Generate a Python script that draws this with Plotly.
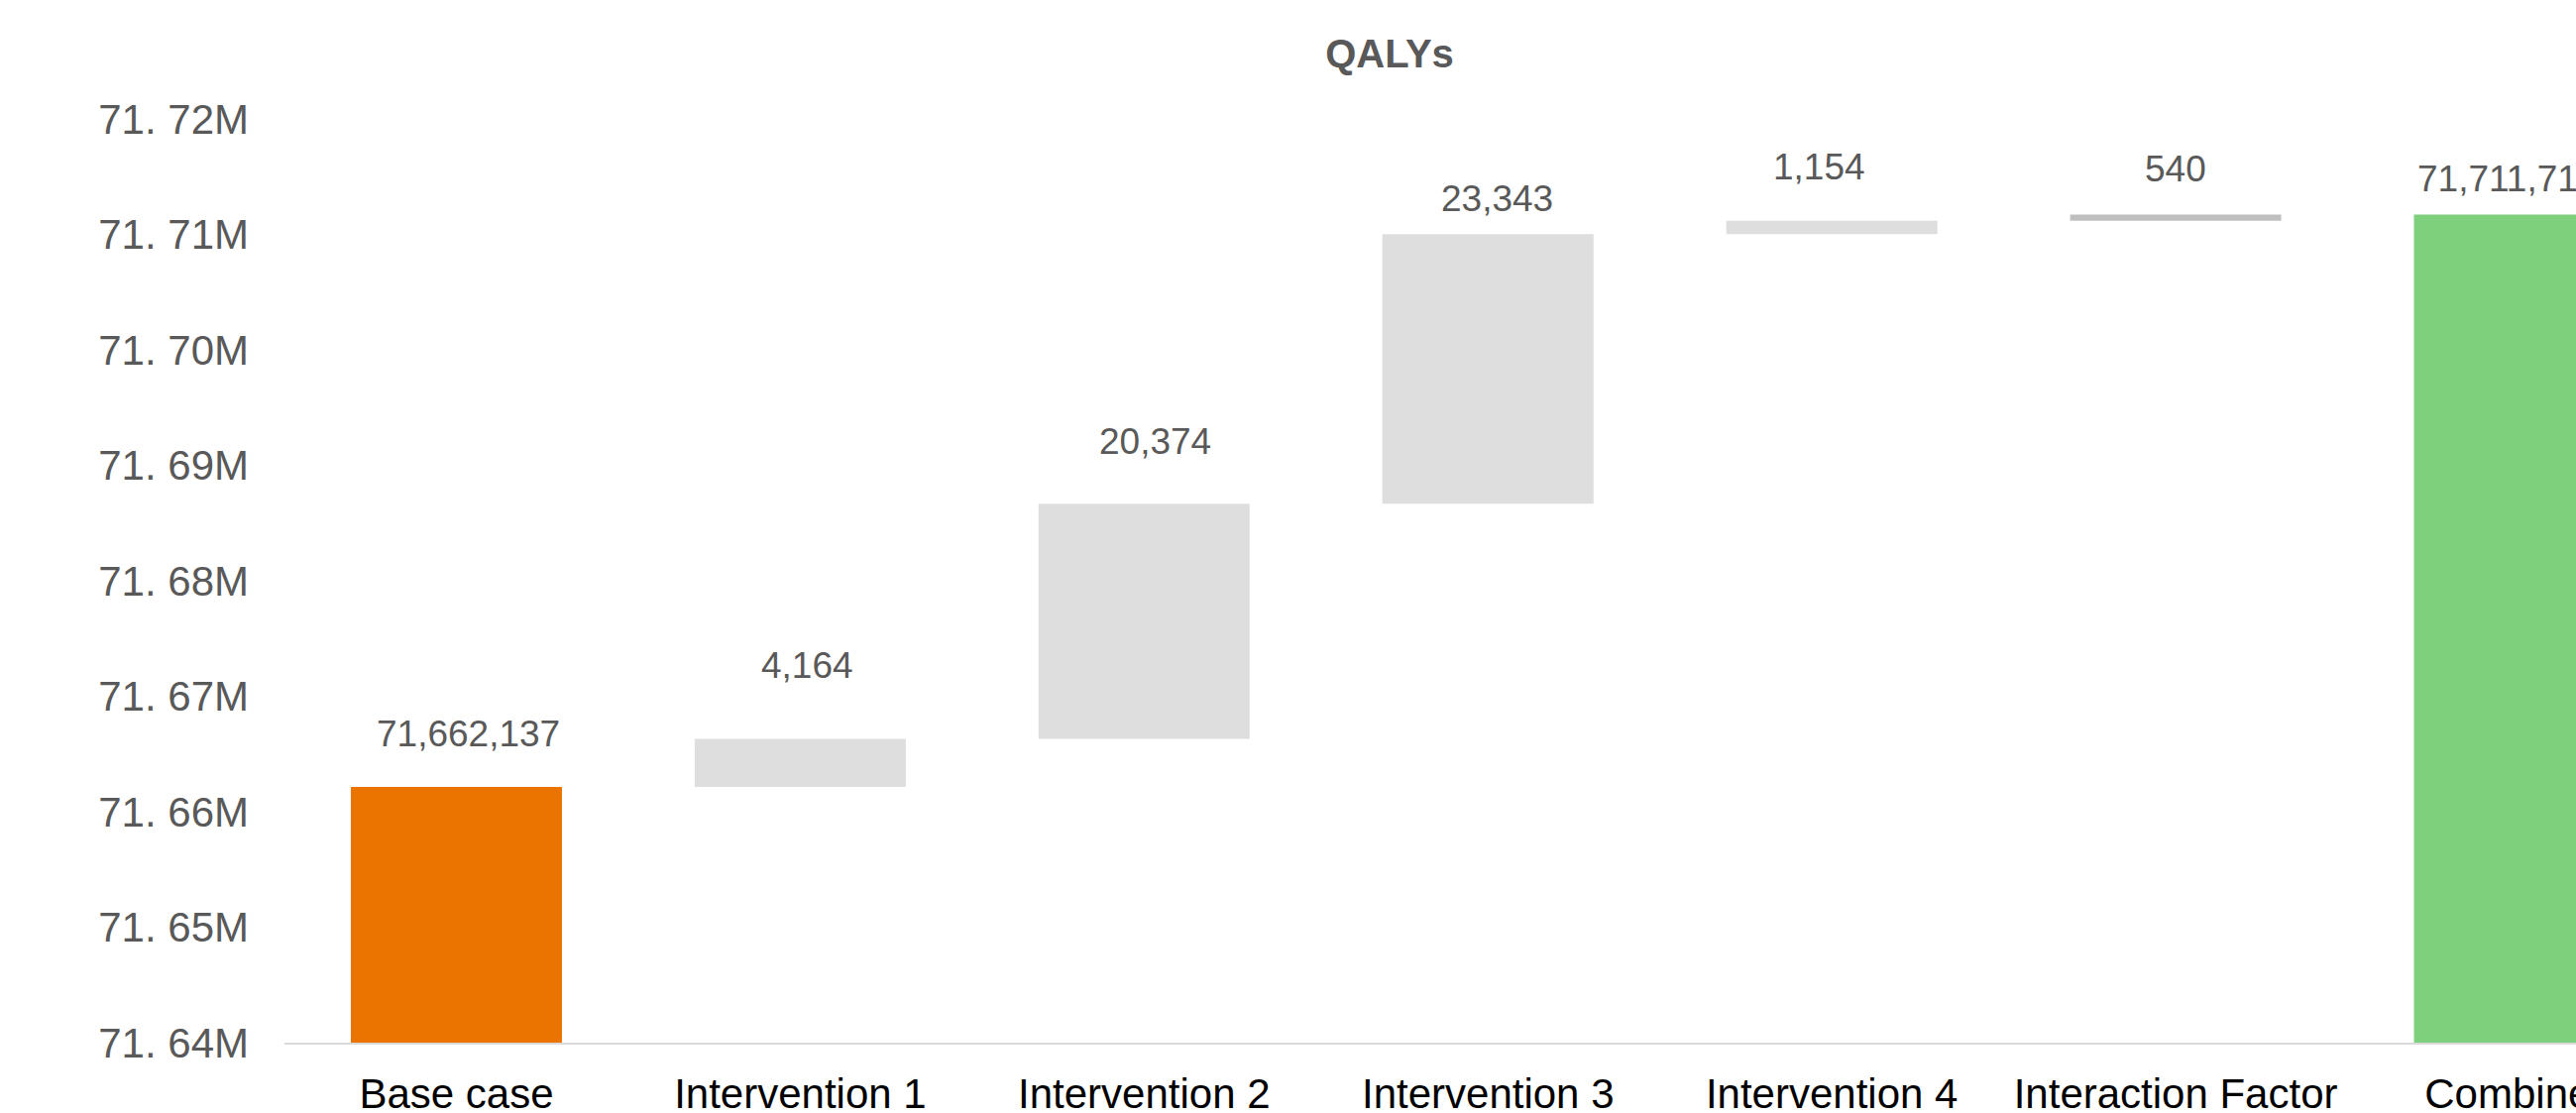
import plotly.graph_objects as go

# ---- data ----
categories = ["Base case", "Intervention 1", "Intervention 2", "Intervention 3",
              "Intervention 4", "Interaction Factor", "Combined"]
base_case = 71662137
increments = [4164, 20374, 23343, 1154, 540]
combined_total = 71711712
y_tickvals = [71640000, 71650000, 71660000, 71670000, 71680000,
              71690000, 71700000, 71710000, 71720000]
y_ticktext = ["71. 64M", "71. 65M", "71. 66M", "71. 67M", "71. 68M",
              "71. 69M", "71. 70M", "71. 71M", "71. 72M"]

# ---- style ----
FONT = "Arial, 'Liberation Sans', sans-serif"
colors = ["#EB7300", "#DEDEDE", "#DEDEDE", "#DEDEDE", "#DEDEDE", "#BFBFBF", "#7ED07C"]
label_yshift = [54, 74, 63, 36, 54, 46, 36]    # px above bar top (label centre)
label_xshift = [12, 7, 11, 9, -13, 0, -12]     # px offset of label from bar centre

# build waterfall geometry from the data
bases, heights, tops, labels = [0], [base_case], [base_case], [f"{base_case:,}"]
running = base_case
for inc in increments:
    bases.append(running)
    heights.append(inc)
    running += inc
    tops.append(running)
    labels.append(f"{inc:,}")
bases.append(0)
heights.append(combined_total)
tops.append(combined_total)
labels.append(f"{combined_total:,}")

fig = go.Figure()
fig.add_trace(go.Bar(
    x=categories, y=heights, base=bases,
    marker=dict(color=colors, line=dict(width=0)),
    width=0.614, hoverinfo="skip", showlegend=False,
))

for cat, top, lab, dy, dx in zip(categories, tops, labels, label_yshift, label_xshift):
    fig.add_annotation(
        x=cat, y=top, text=lab, showarrow=False,
        yanchor="middle", xanchor="center", yshift=dy, xshift=dx,
        font=dict(family=FONT, size=37, color="#595959"),
    )

W, H = 2599, 1123
left = 286.5
cat_w = 347.0
span = (W - left) / cat_w

fig.update_layout(
    width=W, height=H,
    margin=dict(l=left, r=0, t=120, b=71, autoexpand=False),
    paper_bgcolor="white", plot_bgcolor="white",
    title=dict(text="<b>QALYs</b>", x=1402 / W, xref="container", xanchor="center",
               y=1 - 54 / H, yref="container", yanchor="middle",
               font=dict(family=FONT, size=40, color="#595959")),
    xaxis=dict(
        type="category", range=[-0.5, -0.5 + span], showgrid=False,
        showline=True, linecolor="#D9D9D9", linewidth=2,
        ticks="", ticklabelstandoff=14, automargin=False,
        tickfont=dict(family=FONT, size=42, color="#000000"),
    ),
    yaxis=dict(
        range=[71640000, 71720000], tickvals=y_tickvals, ticktext=y_ticktext,
        showgrid=False, zeroline=False, showline=False, ticks="",
        ticklabelstandoff=35, automargin=False,
        tickfont=dict(family=FONT, size=42, color="#595959"),
    ),
    bargap=0.386,
)

fig.write_html("out.html", config={"displayModeBar": False})
